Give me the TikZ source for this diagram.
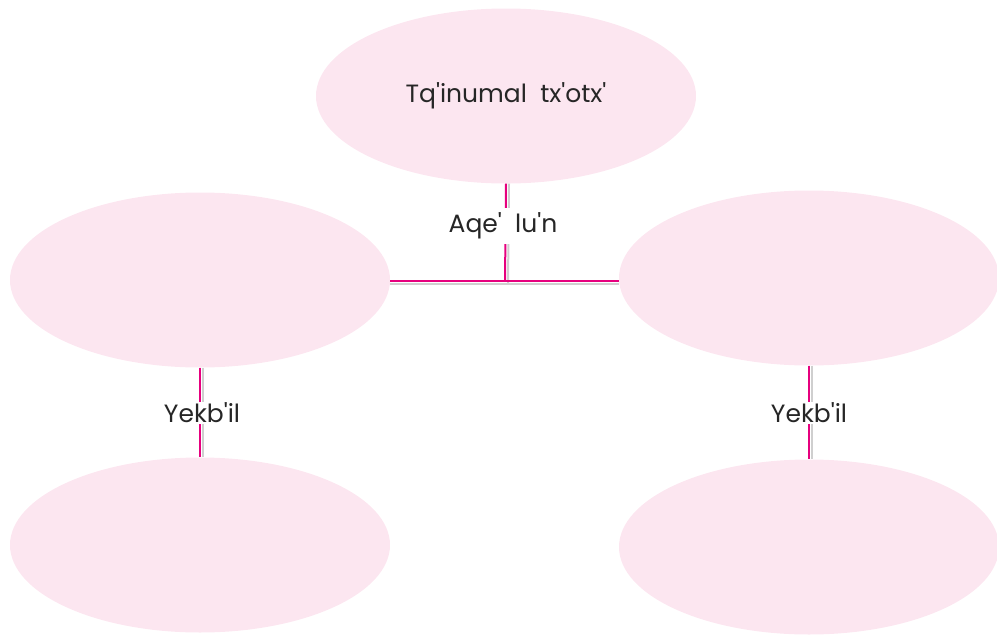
\documentclass[tikz,border=0pt]{standalone}
\usepackage{fontspec}
\setmainfont{Poppins}
\usetikzlibrary{shapes.geometric}
\definecolor{bubble}{HTML}{FCE6F0}
\definecolor{mag}{HTML}{E6007E}
\definecolor{shade}{HTML}{CFCFCF}
\newcommand\apq{\textquotesingle}
\begin{document}
\begin{tikzpicture}[x=1pt,y=-1pt,
  bub/.style={ellipse,fill=bubble,minimum width=380pt,minimum height=175pt,inner sep=0pt},
  txt/.style={font=\fontsize{25}{28}\selectfont,text=black!85},
  lbl/.style={txt,fill=white,inner xsep=1pt,inner ysep=1pt},
  shadowline/.style={draw=shade,line width=2pt},
  magline/.style={draw=mag,line width=2pt}]
\useasboundingbox (0,0) rectangle (997,635);
\node[bub,txt] (top) at (506,96) {Tq\apq inumal\ \ tx\apq otx\apq};
\node[bub] (ml) at (200,280) {};
\node[bub] (mr) at (809,278) {};
\node[bub] (bl) at (200,545) {};
\node[bub] (br) at (809,547) {};
\coordinate (j) at (505,281);
% shadows
\draw[shadowline] ([shift={(3,0)}]top.south) -- ([shift={(3,3)}]j);
\draw[shadowline] ([shift={(0,3)}]ml.east|-j) -- ([shift={(0,3)}]mr.west|-j);
\draw[shadowline] ([shift={(3,0)}]ml.south) -- ([shift={(3,0)}]bl.north);
\draw[shadowline] ([shift={(3,0)}]mr.south) -- ([shift={(3,0)}]br.north);
% magenta lines
\draw[magline] (top.south) -- (j);
\draw[magline] (ml.east|-j) -- (mr.west|-j);
\draw[magline] (ml.south) -- (bl.north);
\draw[magline] (mr.south) -- (br.north);
% labels
\node[lbl,inner ysep=5pt] (l1) at (503,226) {Aqe\apq\ \ lu\apq n};
\node[lbl] (l2) at (202,413) {Yekb\apq il};
\node[lbl] (l3) at (809,413) {Yekb\apq il};
\end{tikzpicture}
\end{document}
